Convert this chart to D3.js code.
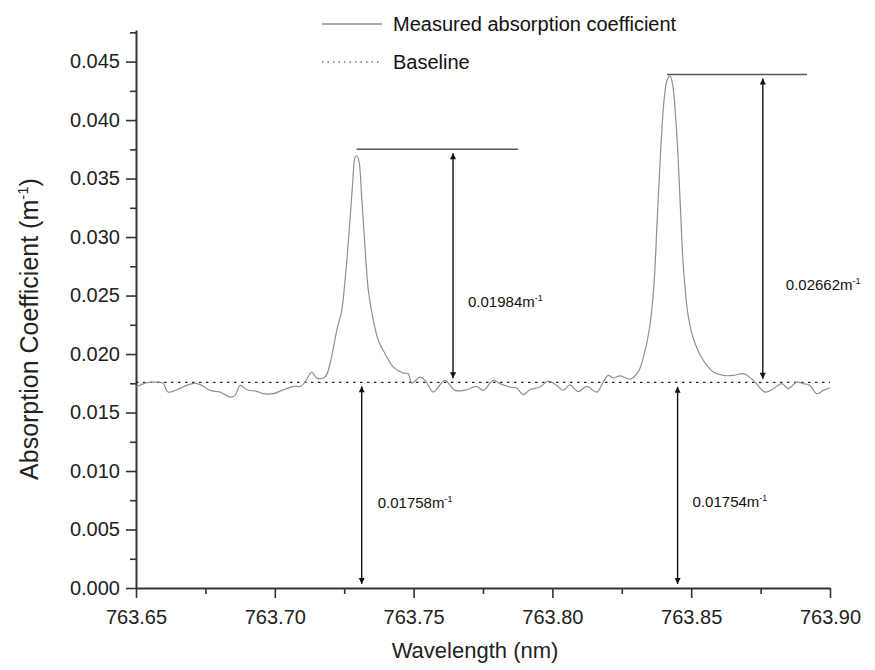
<!DOCTYPE html>
<html>
<head>
<meta charset="utf-8">
<script src="https://cdn.jsdelivr.net/npm/d3@7"></script>
<style>
  body { margin: 0; background: #fff; }
  svg { font-family: "Liberation Sans", Arial, sans-serif; }
</style>
</head>
<body>
<svg id="chart" width="875" height="670"></svg>
<script>
// measured trace (nm, 1/m)
let wavelength = [
  763.6500, 763.6539, 763.6561, 763.6597, 763.6615, 763.6647, 763.6683, 763.6713, 763.6737, 763.6767,
  763.6803, 763.6839, 763.6857, 763.6875, 763.6899, 763.6935, 763.6959, 763.6995, 763.7025, 763.7043,
  763.7067, 763.7091, 763.7109, 763.7133, 763.7151, 763.7181, 763.7199, 763.7223, 763.7241, 763.7253,
  763.7268, 763.7281, 763.7289, 763.7295, 763.7303, 763.7313, 763.7325, 763.7337, 763.7355, 763.7373,
  763.7397, 763.7427, 763.7463, 763.7481, 763.7493, 763.7523, 763.7541, 763.7571, 763.7589, 763.7613,
  763.7649, 763.7691, 763.7727, 763.7751, 763.7787, 763.7811, 763.7847, 763.7871, 763.7895, 763.7919,
  763.7955, 763.7985, 763.8016, 763.8039, 763.8063, 763.8093, 763.8124, 763.8160, 763.8183, 763.8201,
  763.8219, 763.8244, 763.8280, 763.8309, 763.8334, 763.8352, 763.8366, 763.8378, 763.8390, 763.8402,
  763.8414, 763.8424, 763.8433, 763.8448, 763.8460, 763.8472, 763.8490, 763.8514, 763.8544, 763.8580,
  763.8616, 763.8652, 763.8688, 763.8724, 763.8766, 763.8796, 763.8826, 763.8850, 763.8880, 763.8904,
  763.8928, 763.8952, 763.8976, 763.9000
];
let absorption = [
  0.01718, 0.01755, 0.01760, 0.01752, 0.01675, 0.01695, 0.01732, 0.01752, 0.01732, 0.01689,
  0.01675, 0.01632, 0.01647, 0.01732, 0.01695, 0.01681, 0.01661, 0.01661, 0.01689, 0.01704,
  0.01724, 0.01724, 0.01760, 0.01846, 0.01794, 0.01803, 0.01917, 0.02201, 0.02372, 0.02628,
  0.03055, 0.03481, 0.03680, 0.03695, 0.03652, 0.03339, 0.02912, 0.02543, 0.02287, 0.02116,
  0.02003, 0.01888, 0.01837, 0.01832, 0.01752, 0.01803, 0.01775, 0.01675, 0.01718, 0.01775,
  0.01689, 0.01695, 0.01724, 0.01689, 0.01775, 0.01747, 0.01718, 0.01709, 0.01653, 0.01695,
  0.01718, 0.01769, 0.01732, 0.01689, 0.01736, 0.01679, 0.01724, 0.01675, 0.01760, 0.01817,
  0.01796, 0.01813, 0.01785, 0.01847, 0.02031, 0.02259, 0.02600, 0.03168, 0.03737, 0.04164,
  0.04349, 0.04377, 0.04306, 0.03880, 0.03311, 0.02741, 0.02315, 0.02088, 0.01945, 0.01846,
  0.01817, 0.01817, 0.01832, 0.01775, 0.01675, 0.01704, 0.01747, 0.01704, 0.01760, 0.01747,
  0.01732, 0.01661, 0.01689, 0.01712
];
let baseline = 0.01758;

// peak level lines: start, end wavelength and the level
let peakStart = [763.7295, 763.8413];
let peakEnd = [763.7876, 763.8917];
let peakLevel = [0.0375, 0.0439];

// double headed arrows: where, from, to
let arrowAt = [763.7642, 763.8758, 763.7313, 763.8451];
let arrowFrom = [0.0375, 0.0439, 0.01758, 0.01754];
let arrowTo = [0.01758, 0.01754, 0, 0];
let arrowText = ['0.01984', '0.02662', '0.01758', '0.01754'];
let arrowTextAt = [0.0240, 0.0255, 0.0068, 0.0069];

let xTicks = [763.65, 763.70, 763.75, 763.80, 763.85, 763.90];
let yTicks = d3.range(0, 0.0451, 0.005);

let svg = d3.select('#chart');
let margin = {left: 136, right: 45, top: 30, bottom: 82};
let width = 875 - margin.left - margin.right;
let height = 670 - margin.top - margin.bottom;

let x = d3.scaleLinear().domain([763.65, 763.90]).range([0, width]);
let y = d3.scaleLinear().domain([0, 0.0477]).range([height, 0]);

let g = svg.append('g')
    .attr('transform', 'translate(' + margin.left + ',' + margin.top + ')');

// arrow heads
let defs = svg.append('defs');
defs.append('marker')
    .attr('id', 'head')
    .attr('viewBox', '0 0 10 10')
    .attr('refX', 10).attr('refY', 5)
    .attr('markerWidth', 10).attr('markerHeight', 6)
    .attr('markerUnits', 'userSpaceOnUse')
    .attr('orient', 'auto-start-reverse')
    .append('path')
    .attr('d', 'M0,0L10,5L0,10z')
    .attr('fill', '#111');

// axes, minor ticks first so the major ones sit on top
let xMinor = d3.range(763.675, 763.90, 0.05);
let yMinor = d3.range(0.0025, 0.048, 0.005);

g.append('g')
    .attr('transform', 'translate(0,' + height + ')')
    .call(d3.axisBottom(x).tickValues(xMinor).tickSize(6).tickFormat(''))
    .call(a => a.select('.domain').remove());
g.append('g')
    .call(d3.axisLeft(y).tickValues(yMinor).tickSize(6).tickFormat(''))
    .call(a => a.select('.domain').remove());

let xAxis = g.append('g')
    .attr('transform', 'translate(0,' + height + ')')
    .call(d3.axisBottom(x).tickValues(xTicks).tickSize(10).tickSizeOuter(0)
        .tickPadding(8).tickFormat(d3.format('.2f')));
let yAxis = g.append('g')
    .call(d3.axisLeft(y).tickValues(yTicks).tickSize(10).tickSizeOuter(0)
        .tickPadding(6).tickFormat(d3.format('.3f')));

g.selectAll('.tick line').attr('stroke', '#333').attr('stroke-width', 1.6);
g.selectAll('.domain').attr('stroke', '#333').attr('stroke-width', 2);
g.selectAll('.tick text').attr('font-size', 20).attr('fill', '#222')
    .attr('font-family', '"Liberation Sans", Arial, sans-serif');
xAxis.selectAll('.tick text').attr('dy', '0.9em');

// axis titles
svg.append('text')
    .attr('x', 475).attr('y', 658)
    .attr('text-anchor', 'middle')
    .attr('font-size', 22).attr('fill', '#222')
    .text('Wavelength (nm)');
let yTitle = svg.append('text')
    .attr('transform', 'translate(38,329)rotate(-90)')
    .attr('text-anchor', 'middle')
    .attr('font-size', 25).attr('fill', '#222');
yTitle.append('tspan').text('Absorption Coefficient (m');
yTitle.append('tspan').attr('font-size', 15).attr('dy', -10).text('-1');
yTitle.append('tspan').attr('dy', 10).text(')');

// baseline and trace
g.append('line')
    .attr('x1', x(763.65)).attr('x2', x(763.90))
    .attr('y1', y(baseline)).attr('y2', y(baseline))
    .attr('stroke', '#222').attr('stroke-width', 1.2)
    .attr('stroke-dasharray', '2.5,4.5');

let points = wavelength.map((w, i) => [w, absorption[i]]);
let line = d3.line()
    .x(d => x(d[0]))
    .y(d => y(d[1]))
    .curve(d3.curveCatmullRom);
g.append('path')
    .datum(points)
    .attr('d', line)
    .attr('fill', 'none')
    .attr('stroke', '#909090')
    .attr('stroke-width', 1.2);

// peak level lines
g.selectAll('.peak')
    .data(peakLevel)
    .enter().append('line')
    .attr('class', 'peak')
    .attr('x1', (d, i) => x(peakStart[i]))
    .attr('x2', (d, i) => x(peakEnd[i]))
    .attr('y1', d => y(d)).attr('y2', d => y(d))
    .attr('stroke', '#555').attr('stroke-width', 1.6);

// arrows, pulled in a few pixels from their ends
let inset = 4;
g.selectAll('.arrow')
    .data(arrowAt)
    .enter().append('line')
    .attr('class', 'arrow')
    .attr('x1', d => x(d)).attr('x2', d => x(d))
    .attr('y1', (d, i) => y(arrowFrom[i]) + inset)
    .attr('y2', (d, i) => y(arrowTo[i]) - inset)
    .attr('stroke', '#111').attr('stroke-width', 1.4)
    .attr('marker-start', 'url(#head)')
    .attr('marker-end', 'url(#head)');

let shift = [15, 23, 16, 15];
let labels = g.selectAll('.value')
    .data(arrowText)
    .enter().append('text')
    .attr('class', 'value')
    .attr('x', (d, i) => x(arrowAt[i]) + shift[i])
    .attr('y', (d, i) => y(arrowTextAt[i]))
    .attr('font-size', 15).attr('fill', '#111');
labels.append('tspan').text(d => d + 'm');
labels.append('tspan').attr('font-size', 9).attr('dy', -6).text('-1');

// legend
let legendItems = ['Measured absorption coefficient', 'Baseline'];
let legend = svg.append('g').attr('transform', 'translate(322,24)');
legend.selectAll('line')
    .data(legendItems)
    .enter().append('line')
    .attr('x1', 0).attr('x2', 60)
    .attr('y1', (d, i) => i * 38).attr('y2', (d, i) => i * 38)
    .attr('stroke', (d, i) => i ? '#333' : '#909090')
    .attr('stroke-width', (d, i) => i ? 1.2 : 1.3)
    .attr('stroke-dasharray', (d, i) => i ? '1.5,4' : null);
legend.selectAll('text')
    .data(legendItems)
    .enter().append('text')
    .attr('x', 71)
    .attr('y', (d, i) => i * 38 + 7)
    .attr('font-size', 20).attr('fill', '#111')
    .text(d => d);
</script>
</body>
</html>
